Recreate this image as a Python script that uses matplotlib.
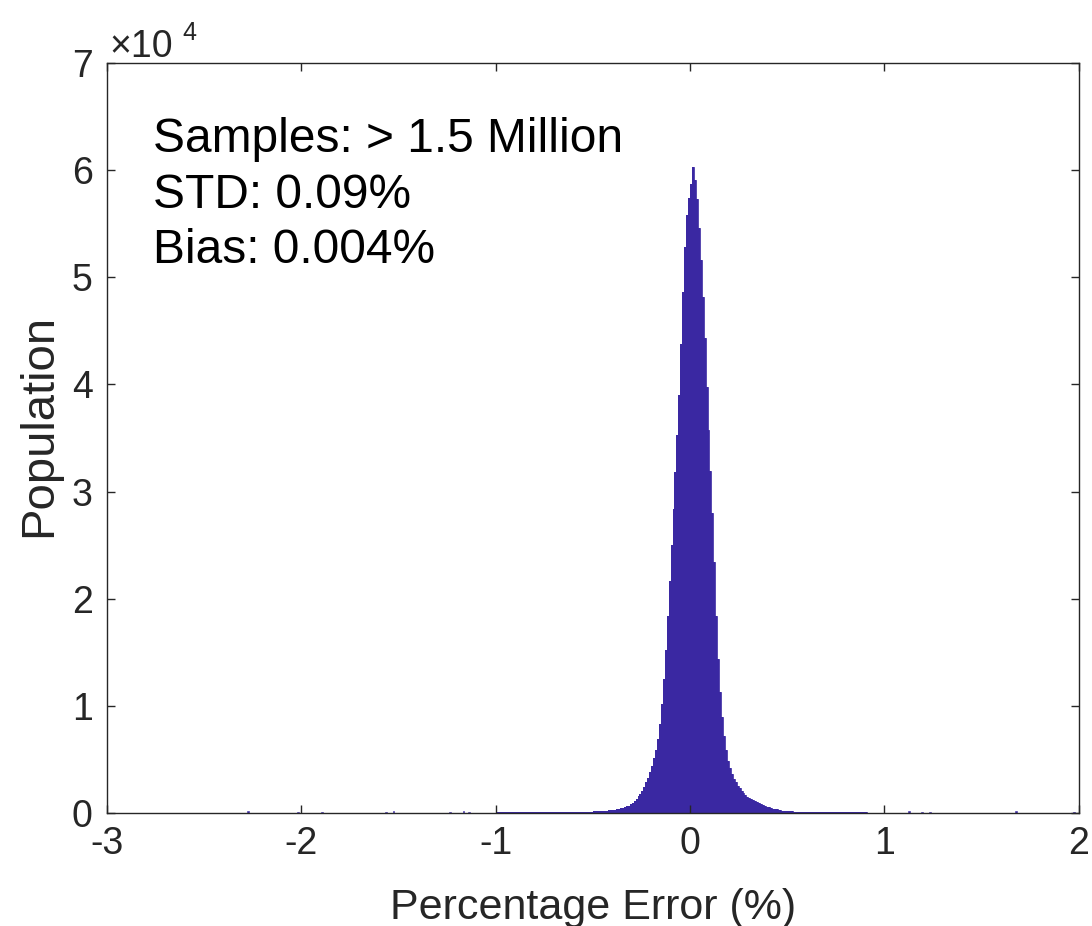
import numpy as np
import matplotlib
matplotlib.use("Agg")
import matplotlib.pyplot as plt
from matplotlib.ticker import FuncFormatter

# ---------------- data ----------------
bin_width = 0.01
core_start = -0.60
core_counts = [
    90, 100, 95, 110, 105, 120, 115, 130, 125, 140,            # -0.60 .. -0.51
    150, 155, 165, 170, 185, 200, 215, 230, 250, 270,          # -0.50 .. -0.41
    290, 320, 350, 390, 430, 480, 540, 610, 700, 820,          # -0.40 .. -0.31
    960, 1120, 1320, 1550, 1800, 2100, 2450, 2850, 3300, 3800, # -0.30 .. -0.21
    4400, 5100, 5900, 6900, 8300, 10200, 12500, 15200, 18400, 21700,   # -0.20 .. -0.11
    25000, 28400, 31800, 35300, 39000, 43800, 48600, 52800, 55800, 57400,  # -0.10 .. -0.01
    58700, 60300, 59100, 57300, 54600, 51600, 48200, 44300, 39800, 35700,  # 0.00 .. 0.09
    31900, 28000, 23400, 18400, 14400, 11300, 9000, 7200, 5900, 4900,      # 0.10 .. 0.19
    4200, 3650, 3200, 2850, 2550, 2300, 2080, 1880, 1700, 1540,            # 0.20 .. 0.29
    1400, 1290, 1190, 1090, 990, 900, 810, 730, 660, 590,                  # 0.30 .. 0.39
    530, 470, 420, 370, 330, 290, 260, 230, 205, 185,                      # 0.40 .. 0.49
    170, 155, 145, 140, 130, 125, 120, 115, 110, 105,                      # 0.50 .. 0.59
    100,                                                                   # 0.60
]

tail_left_start = -1.00
tail_left_counts = [
    110, 95, 120, 100, 90, 115, 105, 95, 120, 100,
    110, 95, 115, 105, 100, 110, 95, 110, 115, 100,
    105, 95, 110, 105, 100, 115, 105, 95, 110, 110,
    100, 115, 105, 100, 95, 110, 115, 100, 105, 100,
]
tail_right_start = 0.61
tail_right_counts = [
    100, 95, 105, 110, 95, 100, 105, 95, 110, 100,
    95, 105, 100, 110, 95, 100, 105, 95, 100, 110,
    95, 100, 90, 105, 95, 100, 90, 95, 85, 90,
]

outlier_x = [-2.28, -2.02, -1.90, -1.57, -1.53, -1.24, -1.17, -1.14, 1.12, 1.19, 1.23, 1.67, 1.97]
outlier_counts = [150, 120, 140, 130, 150, 140, 160, 130, 150, 140, 130, 150, 110]

x_ticks = [-3, -2, -1, 0, 1, 2]
y_ticks = [0, 1e4, 2e4, 3e4, 4e4, 5e4, 6e4, 7e4]

annotation_lines = ["Samples: > 1.5 Million", "STD: 0.09%", "Bias: 0.004%"]

# ---------------- figure ----------------
FONT = "Liberation Sans"
plt.rcParams["font.family"] = [FONT, "DejaVu Sans"]
TICK_COLOR = "#262626"
BAR_COLOR = "#3a28a2"

fig = plt.figure(figsize=(10.92, 9.26), dpi=100)
ax = fig.add_axes([0.0977, 0.122, 0.8903, 0.810])


def draw_bins(start, counts):
    edges = [start + i * bin_width for i in range(len(counts) + 1)]
    ax.stairs(counts, edges, fill=True, color=BAR_COLOR, linewidth=0)
    ax.stairs(counts, edges, fill=False, color=BAR_COLOR, linewidth=0.6)


draw_bins(core_start, core_counts)
draw_bins(tail_left_start, tail_left_counts)
draw_bins(tail_right_start, tail_right_counts)
ax.bar(outlier_x, outlier_counts, width=bin_width, align="edge", color=BAR_COLOR,
       edgecolor=BAR_COLOR, linewidth=0.4)

ax.set_xlim(-3, 2)
ax.set_ylim(0, 7e4)
ax.set_xticks(x_ticks)
ax.set_xticklabels([str(t) for t in x_ticks])
ax.set_yticks(y_ticks)
ax.yaxis.set_major_formatter(FuncFormatter(lambda v, p: f"{v/1e4:g}"))

for s in ax.spines.values():
    s.set_color(TICK_COLOR)
    s.set_linewidth(1.0)
    s.set_zorder(5)

ax.tick_params(axis="both", which="major", direction="in", length=6, width=1.0,
               color=TICK_COLOR, labelcolor=TICK_COLOR, labelsize=27,
               top=True, right=True)
ax.tick_params(axis="x", pad=9)
ax.tick_params(axis="y", pad=10)

ax.set_xlabel("Percentage Error (%)", fontsize=31, color=TICK_COLOR)
ax.xaxis.set_label_coords(0.5, -0.100)
ax.set_ylabel("Population", fontsize=34, color=TICK_COLOR)
ax.yaxis.set_label_coords(-0.047, 0.517)

# exponent label
ax.text(0.003, 1.008, "\u00d710", transform=ax.transAxes, fontsize=27,
        color=TICK_COLOR, ha="left", va="baseline")
ax.text(0.078, 1.030, "4", transform=ax.transAxes, fontsize=18,
        color=TICK_COLOR, ha="left", va="baseline")

# annotation text
for line, yf in zip(annotation_lines, [0.881, 0.807, 0.733]):
    ax.text(0.0476, yf, line, transform=ax.transAxes, fontsize=34.5,
            color="black", ha="left", va="baseline")

fig.savefig("out.png", dpi=100)
